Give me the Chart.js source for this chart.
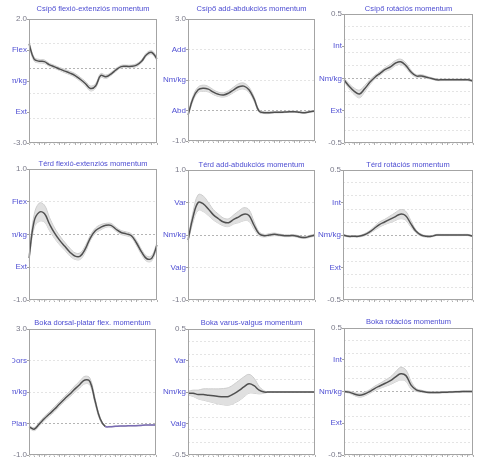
<!DOCTYPE html>
<html>
<head>
<meta charset="utf-8">
<script src="https://cdn.jsdelivr.net/npm/chart.js@4.4.1/dist/chart.umd.min.js"></script>
<style>
  body { margin: 0; background: #fff; width: 481px; height: 464px; overflow: hidden; position: relative; }
  canvas { position: absolute; }
</style>
</head>
<body>
<script>
// gait cycle, %
const gait = [0,4,8,12,16,20,24,28,32,36,40,44,48,52,56,60,64,68,72,76,80,84,88,92,96,100];

// Csípő (hip)
const hipFlexMean = [1.0,0.38,0.3,0.28,0.15,0.07,-0.02,-0.1,-0.18,-0.28,-0.43,-0.6,-0.8,-0.7,-0.28,-0.33,-0.22,-0.05,0.08,0.09,0.09,0.14,0.3,0.57,0.65,0.39];
const hipFlexSd   = [0.1,0.08,0.07,0.07,0.06,0.06,0.06,0.07,0.07,0.08,0.08,0.09,0.1,0.09,0.08,0.07,0.06,0.06,0.05,0.05,0.05,0.06,0.06,0.07,0.07,0.07];
const hipAddMean  = [-0.15,0.4,0.68,0.73,0.7,0.6,0.53,0.51,0.57,0.68,0.78,0.8,0.68,0.38,-0.02,-0.07,-0.07,-0.06,-0.06,-0.05,-0.04,-0.04,-0.06,-0.07,-0.04,-0.02];
const hipAddSd    = [0.05,0.08,0.09,0.1,0.09,0.08,0.07,0.07,0.08,0.09,0.1,0.1,0.09,0.07,0.04,0.03,0.03,0.02,0.02,0.02,0.02,0.02,0.02,0.02,0.02,0.02];
const hipRotMean  = [-0.01,-0.06,-0.1,-0.12,-0.08,-0.03,0.01,0.04,0.07,0.09,0.12,0.13,0.1,0.05,0.02,0.02,0.01,0.0,-0.01,-0.01,-0.01,-0.01,-0.01,-0.01,-0.01,-0.02];
const hipRotSd    = [0.01,0.02,0.025,0.03,0.025,0.02,0.015,0.015,0.015,0.02,0.02,0.02,0.02,0.015,0.01,0.01,0.008,0.006,0.006,0.006,0.006,0.006,0.006,0.006,0.006,0.006];

// Térd (knee)
const kneeFlexMean = [-0.36,0.2,0.34,0.32,0.16,0.02,-0.09,-0.18,-0.27,-0.33,-0.33,-0.22,-0.05,0.06,0.11,0.14,0.14,0.08,0.03,0.01,-0.02,-0.13,-0.27,-0.37,-0.36,-0.16];
const kneeFlexSd   = [0.05,0.1,0.14,0.13,0.1,0.08,0.07,0.06,0.06,0.05,0.05,0.05,0.04,0.04,0.04,0.03,0.03,0.03,0.03,0.03,0.03,0.04,0.04,0.04,0.04,0.04];
const kneeAddMean  = [-0.08,0.28,0.5,0.48,0.4,0.31,0.25,0.2,0.19,0.24,0.28,0.32,0.3,0.15,0.02,-0.01,0.0,0.01,0.0,-0.01,-0.01,-0.01,-0.03,-0.04,-0.02,0.0];
const kneeAddSd    = [0.03,0.08,0.12,0.12,0.1,0.08,0.07,0.06,0.06,0.07,0.09,0.1,0.09,0.06,0.03,0.02,0.02,0.02,0.015,0.015,0.015,0.015,0.015,0.015,0.015,0.015];
const kneeRotMean  = [0,-0.01,-0.01,-0.01,0,0.02,0.05,0.08,0.1,0.12,0.14,0.16,0.15,0.09,0.03,0,-0.01,-0.01,0,0,0,0,0,0,0,-0.01];
const kneeRotSd    = [0.005,0.005,0.005,0.005,0.008,0.01,0.015,0.02,0.02,0.025,0.03,0.035,0.035,0.025,0.012,0.008,0.006,0.005,0.005,0.005,0.005,0.005,0.005,0.005,0.005,0.005];

// Boka (ankle)
const ankleFlexMean = [-0.1,-0.18,-0.02,0.15,0.3,0.45,0.62,0.78,0.93,1.09,1.24,1.38,1.33,0.72,0.15,-0.09,-0.1,-0.09,-0.08,-0.08,-0.07,-0.07,-0.06,-0.05,-0.05,-0.05];
const ankleFlexSd   = [0.04,0.05,0.06,0.07,0.07,0.08,0.08,0.08,0.09,0.1,0.11,0.12,0.11,0.08,0.05,0.02,0.01,0.01,0.01,0.01,0.01,0.01,0.01,0.01,0.01,0.01];
const ankleVarMean  = [-0.01,-0.01,-0.02,-0.02,-0.025,-0.03,-0.035,-0.037,-0.035,-0.015,0.01,0.04,0.065,0.05,0.015,0,0,0,0,0,0,0,0,0,0,0];
const ankleVarSd    = [0.015,0.025,0.035,0.045,0.05,0.055,0.06,0.065,0.07,0.075,0.08,0.08,0.075,0.06,0.03,0.01,0,0,0,0,0,0,0,0,0,0];
const ankleRotMean  = [0,-0.005,-0.02,-0.03,-0.02,0,0.025,0.045,0.065,0.085,0.115,0.14,0.125,0.05,0.013,0.002,-0.005,-0.008,-0.008,-0.006,-0.005,-0.004,-0.002,0,0,0];
const ankleRotSd    = [0.005,0.008,0.012,0.015,0.015,0.015,0.018,0.02,0.025,0.03,0.04,0.05,0.045,0.03,0.012,0.008,0.006,0.005,0.005,0.005,0.005,0.005,0.005,0.005,0.005,0.005];

// titles and axis tick labels (top to bottom)
const titles = [
  "Csípő flexió-extenziós momentum", "Csípő add-abdukciós momentum", "Csípő rotációs momentum",
  "Térd flexió-extenziós momentum", "Térd add-abdukciós momentum", "Térd rotációs momentum",
  "Boka dorsal-platar flex. momentum", "Boka varus-valgus momentum", "Boka rotációs momentum"
];
const tickLabels = [
  ["2.0","Flex","Nm/kg","Ext","-3.0"], ["3.0","Add","Nm/kg","Abd","-1.0"], ["0.5","Int","Nm/kg","Ext","-0.5"],
  ["1.0","Flex","Nm/kg","Ext","-1.0"], ["1.0","Var","Nm/kg","Valg","-1.0"], ["0.5","Int","Nm/kg","Ext","-0.5"],
  ["3.0","Dors","Nm/kg","Plan","-1.0"], ["0.5","Var","Nm/kg","Valg","-0.5"], ["0.5","Int","Nm/kg","Ext","-0.5"]
];
const yMax = [2, 3, 0.5, 1, 1, 0.5, 3, 0.5, 0.5];
const yMin = [-3, -1, -0.5, -1, -1, -0.5, -1, -0.5, -0.5];
const gridStep = [1, 1, 0.1, 0.5, 0.5, 0.1, 1, 0.1, 0.1];
const means = [hipFlexMean, hipAddMean, hipRotMean, kneeFlexMean, kneeAddMean, kneeRotMean, ankleFlexMean, ankleVarMean, ankleRotMean];
const sds = [hipFlexSd, hipAddSd, hipRotSd, kneeFlexSd, kneeAddSd, kneeRotSd, ankleFlexSd, ankleVarSd, ankleRotSd];

// plot boxes on the page: left, top, right, bottom
const boxes = [
  [29, 19, 157, 143], [188, 19, 315, 141], [344, 14, 473, 143],
  [29, 169, 157, 300], [188, 170, 315, 300], [343, 170, 473, 300],
  [29, 329, 156, 455], [188, 329, 315, 455], [344, 328, 473, 455]
];
const titleGap = [10, 10, 5, 5, 5, 5, 6, 6, 6];

const FONT = "'Liberation Sans', Arial, sans-serif";

// frame round the plot + title
const framePlugin = {
  id: "frame",
  afterDraw(chart, args, opts) {
    const { ctx, chartArea: a } = chart;
    ctx.save();
    ctx.strokeStyle = "#a4a4a4";
    ctx.lineWidth = 1;
    ctx.strokeRect(a.left + 0.5, a.top + 0.5, a.right - a.left - 1, a.bottom - a.top - 1);
    ctx.fillStyle = "#4d4dd2";
    ctx.font = "7.5px " + FONT;
    ctx.textAlign = "center";
    ctx.textBaseline = "middle";
    ctx.fillText(opts.text, (a.left + a.right) / 2, a.top - opts.gap);
    ctx.restore();
  }
};

const PAD_TOP = 18;

boxes.forEach((b, i) => {
  const axisW = i % 3 === 0 ? 17 : 30;
  const plotW = b[2] - b[0];
  const plotH = b[3] - b[1];
  const canvas = document.createElement("canvas");
  canvas.width = axisW + plotW + 2;
  canvas.height = PAD_TOP + plotH + 8;
  canvas.style.left = (b[0] - axisW) + "px";
  canvas.style.top = (b[1] - PAD_TOP) + "px";
  document.body.appendChild(canvas);

  const r = yMax[i] - yMin[i];
  const tickVals = [0, 1, 2, 3, 4].map(k => yMax[i] - k * r / 4);
  const upper = means[i].map((m, k) => m + sds[i][k]);
  const lower = means[i].map((m, k) => m - sds[i][k]);
  const ankleTail = i === 6;

  new Chart(canvas, {
    type: "line",
    data: {
      labels: gait,
      datasets: [
        {
          data: means[i], borderColor: "#505050", borderWidth: 1.5, fill: false, pointRadius: 0, tension: 0.4,
          segment: ankleTail ? { borderColor: c => (c.p0.parsed.x >= 15 ? "#7a6cb4" : "#505050") } : {}
        },
        { data: upper, borderColor: "#cdcdcd", borderWidth: 1, backgroundColor: "#e0e0e0", fill: "+1", pointRadius: 0, tension: 0.4 },
        { data: lower, borderColor: "#cdcdcd", borderWidth: 1, fill: false, pointRadius: 0, tension: 0.4 }
      ]
    },
    options: {
      responsive: false,
      animation: false,
      layout: { padding: { top: PAD_TOP, right: 2, bottom: 6, left: 0 } },
      plugins: {
        legend: { display: false },
        tooltip: { enabled: false },
        frame: { text: titles[i], gap: titleGap[i] }
      },
      scales: {
        x: {
          type: "category",
          ticks: { display: false },
          grid: { drawOnChartArea: false, tickLength: 2, color: "#b0b0b0" },
          border: { display: false },
          afterFit(s) { s.height = 2; }
        },
        y: {
          min: yMin[i],
          max: yMax[i],
          afterFit(s) { s.width = axisW; },
          afterBuildTicks(s) { s.ticks = tickVals.map(v => ({ value: v })); },
          ticks: {
            autoSkip: false,
            padding: 0,
            font: { size: 8, family: FONT },
            color: c => (c.index === 0 || c.index === 4 ? "#7a7a8a" : "#5252d4"),
            callback: (v, k) => tickLabels[i][k]
          },
          grid: { drawOnChartArea: false, tickLength: 2, color: "#a0a0a0" },
          border: { display: false }
        },
        g: {
          position: "right",
          display: true,
          min: yMin[i],
          max: yMax[i],
          afterFit(s) { s.width = 0; },
          ticks: { display: false, stepSize: gridStep[i] },
          grid: {
            drawTicks: false,
            color: c => (Math.abs(c.tick.value) < 1e-9 ? "#b4b4b4" : "#e4e4e4")
          },
          border: { display: false, dash: [2, 2] }
        }
      }
    },
    plugins: [framePlugin]
  });
});
</script>
</body>
</html>
